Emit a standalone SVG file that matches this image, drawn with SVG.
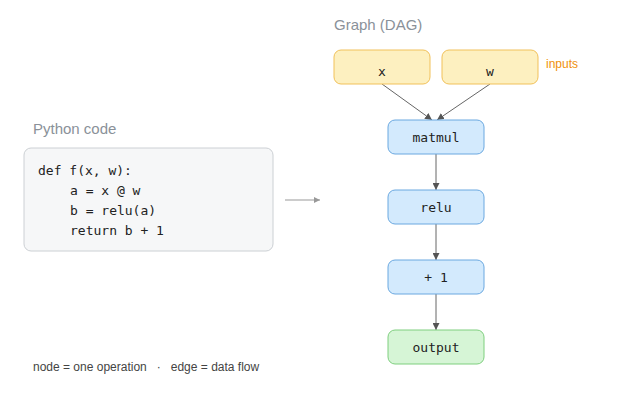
<svg xmlns="http://www.w3.org/2000/svg" width="640" height="400" viewBox="0 0 640 400">
<style>
.t{font-family:"Liberation Sans",Arial,sans-serif;fill:#8a9199;font-size:15px}
.m{font-family:"DejaVu Sans Mono","Liberation Mono",monospace;font-size:13px;fill:#222}
.in rect{fill:#fdf0c0;stroke:#f1c15a;stroke-width:1}
.op rect{fill:#d3eafd;stroke:#6aa8e0;stroke-width:1}
.out rect{fill:#d6f5d6;stroke:#7fcf7f;stroke-width:1}
.e{stroke:#666;stroke-width:1;fill:none;marker-end:url(#a)}
</style>
<defs><marker id="a" viewBox="0 0 10 10" refX="10" refY="5" markerWidth="7" markerHeight="7" orient="auto"><path d="M0,0L10,5L0,10z" fill="#555"/></marker>
<marker id="g" viewBox="0 0 10 10" refX="10" refY="5" markerWidth="6" markerHeight="6" orient="auto"><path d="M0,0L10,5L0,10z" fill="#999"/></marker></defs>
<rect width="640" height="400" fill="#fff"/>
<text class="t" x="33" y="134">Python code</text>
<text class="t" x="334" y="30">Graph (DAG)</text>
<g id="code"><rect x="24" y="148" width="249" height="103" rx="7" fill="#f6f7f8" stroke="#ccd0d4"/>
<text class="m" x="38" y="175" xml:space="preserve">def f(x, w):</text>
<text class="m" x="70" y="195">a = x @ w</text>
<text class="m" x="70" y="215">b = relu(a)</text>
<text class="m" x="70" y="235">return b + 1</text></g>
<g id="connectors">
<line x1="285" y1="200" x2="320" y2="200" stroke="#999" stroke-width="1" marker-end="url(#g)"/>
<line class="e" x1="382" y1="84" x2="432" y2="120"/>
<line class="e" x1="490" y1="84" x2="437" y2="120"/>
<line class="e" x1="436" y1="154" x2="436" y2="190"/>
<line class="e" x1="436" y1="224" x2="436" y2="260"/>
<line class="e" x1="436" y1="294" x2="436" y2="330"/>
</g>
<g id="x" class="in"><rect x="334" y="50" width="96" height="34" rx="7"/><text class="m" x="382" y="76" text-anchor="middle">x</text></g>
<g id="w" class="in"><rect x="442" y="50" width="96" height="34" rx="7"/><text class="m" x="490" y="76" text-anchor="middle">w</text></g>
<text x="546" y="68" font-family="Liberation Sans,Arial,sans-serif" font-size="12" fill="#f0900a">inputs</text>
<g id="matmul" class="op"><rect x="388" y="120" width="96" height="34" rx="7"/><text class="m" x="436" y="142" text-anchor="middle">matmul</text></g>
<g id="relu" class="op"><rect x="388" y="190" width="96" height="34" rx="7"/><text class="m" x="436" y="212" text-anchor="middle">relu</text></g>
<g id="plus1" class="op"><rect x="388" y="260" width="96" height="34" rx="7"/><text class="m" x="436" y="282" text-anchor="middle">+ 1</text></g>
<g id="output" class="out"><rect x="388" y="330" width="96" height="34" rx="7"/><text class="m" x="436" y="352" text-anchor="middle">output</text></g>
<text x="33" y="371" font-family="Liberation Sans,Arial,sans-serif" font-size="12" fill="#444" xml:space="preserve">node = one operation   ·   edge = data flow</text>
</svg>
